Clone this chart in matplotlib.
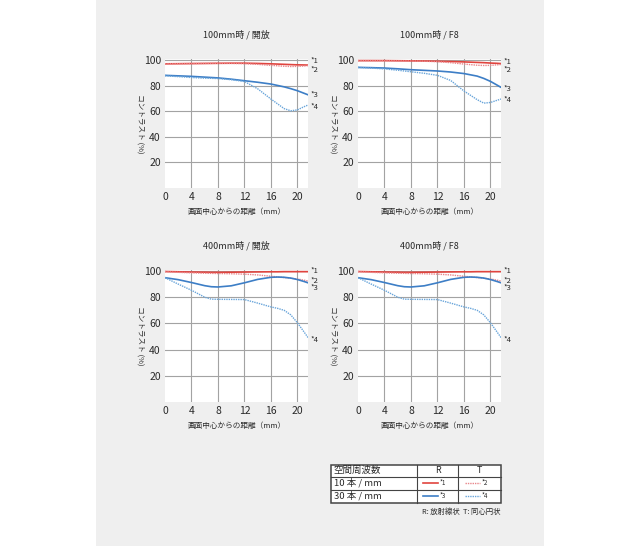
import matplotlib
matplotlib.use("Agg")
import matplotlib.pyplot as plt
import matplotlib.patches as mpatches

plt.rcParams["font.family"] = ["Noto Sans CJK JP", "DejaVu Sans"]

# ---- data (MTF, contrast %) ----
x_100 = [0, 2, 4, 6, 8, 10, 12, 14, 16, 18, 19, 20, 21, 21.6]
open100_r10 = [97, 97.1, 97.2, 97.3, 97.4, 97.5, 97.5, 97.3, 97.0, 96.6, 96.4, 96.2, 96.1, 96.0]
open100_t10 = [97, 97.1, 97.2, 97.3, 97.4, 97.3, 97.1, 96.6, 95.8, 95.1, 94.9, 95.0, 95.3, 95.6]
open100_r30 = [88, 87.6, 87.2, 86.6, 86.0, 85.0, 83.8, 82.6, 81.2, 79.0, 77.6, 76.0, 74.0, 72.8]
open100_t30 = [87.6, 87.0, 86.3, 85.8, 85.5, 84.6, 83.2, 77.5, 69.5, 62.0, 60.3, 61.0, 63.5, 64.8]

f8_100_r10 = [99.5, 99.5, 99.5, 99.4, 99.3, 99.2, 99.0, 98.8, 98.5, 98.1, 97.9, 97.6, 97.4, 97.2]
f8_100_t10 = [99.5, 99.5, 99.4, 99.3, 99.2, 99.0, 98.7, 97.9, 96.8, 95.9, 95.7, 95.8, 96.2, 96.5]
f8_100_r30 = [94.2, 94.0, 93.7, 93.1, 92.4, 91.9, 91.4, 90.6, 89.4, 87.4, 85.6, 83.3, 80.4, 78.6]
f8_100_t30 = [94.2, 93.7, 93.0, 92.0, 90.8, 89.6, 88.0, 84.0, 75.8, 69.0, 66.3, 66.8, 68.5, 69.5]

x_400 = [0, 2, 4, 6, 7, 8, 10, 12, 14, 16, 17, 18, 19, 20, 21, 21.6]
open400_r10 = [99.6, 99.4, 99.2, 99.1, 99.0, 99.0, 99.1, 99.2, 99.3, 99.4, 99.4, 99.5, 99.5, 99.5, 99.5, 99.5]
open400_t10 = [99.5, 99.0, 98.6, 98.3, 98.2, 98.1, 97.9, 97.6, 97.0, 96.0, 95.5, 95.0, 94.5, 93.9, 93.0, 92.3]
open400_r30 = [94.9, 93.4, 91.2, 88.8, 88.0, 87.8, 88.7, 91.0, 93.6, 95.2, 95.4, 95.2, 94.6, 93.5, 92.0, 91.0]
open400_t30 = [94.9, 90.0, 85.3, 80.0, 78.5, 78.4, 78.3, 78.2, 75.5, 72.6, 71.5, 70.0, 66.5, 60.5, 53.5, 49.2]

f8_400_r10 = open400_r10
f8_400_t10 = open400_t10
f8_400_r30 = open400_r30
f8_400_t30 = open400_t30

titles = ["100mm時 / 開放", "100mm時 / F8", "400mm時 / 開放", "400mm時 / F8"]
series_tags = ["*1", "*2", "*3", "*4"]
label_y_100open = [99, 92.4, 73, 63]
label_y_100f8 = [98.7, 92, 77.6, 68.5]
label_y_400 = [100, 92.4, 87.3, 47.7]

x_ticks = [0, 4, 8, 12, 16, 20]
y_ticks = [20, 40, 60, 80, 100]

RED = "#e0443e"
RED_L = "#e8868a"
BLUE = "#3d7ec6"
BLUE_L = "#69a5da"
GRID = "#a3a3a3"
TXT = "#2a2a2a"
styles = [
    dict(color=RED, lw=1.2, ls="-"),
    dict(color=RED_L, lw=1.0, ls=(0, (1, 0.7))),
    dict(color=BLUE, lw=1.2, ls="-"),
    dict(color=BLUE_L, lw=1.0, ls=(0, (1, 0.7))),
]

W, H = 640, 546
fig = plt.figure(figsize=(6.4, 5.46), dpi=100, facecolor="white")
# gray page backdrop, behind everything
fig.patches.append(mpatches.Rectangle((96 / W, 0), (544 - 96) / W, 1,
                                      transform=fig.transFigure,
                                      facecolor="#efefef", edgecolor="none",
                                      zorder=-5))


def px_axes(left, right, top, bottom):
    return fig.add_axes([left / W, 1 - bottom / H, (right - left) / W,
                         (bottom - top) / H])


panels = [
    (px_axes(165, 308, 58.7, 188), x_100,
     [open100_r10, open100_t10, open100_r30, open100_t30], label_y_100open),
    (px_axes(358, 501, 58.7, 188), x_100,
     [f8_100_r10, f8_100_t10, f8_100_r30, f8_100_t30], label_y_100f8),
    (px_axes(165, 308, 269.7, 402), x_400,
     [open400_r10, open400_t10, open400_r30, open400_t30], label_y_400),
    (px_axes(358, 501, 269.7, 402), x_400,
     [f8_400_r10, f8_400_t10, f8_400_r30, f8_400_t30], label_y_400),
]

for (ax, xs, curves, lab_y), title in zip(panels, titles):
    ax.set_facecolor("white")
    ax.set_xlim(0, 21.6)
    ax.set_ylim(0, 101)
    for s in ax.spines.values():
        s.set_visible(False)
    for xv in x_ticks[1:]:
        ax.axvline(xv, color=GRID, lw=0.8, zorder=1)
    for yv in y_ticks:
        ax.axhline(yv, color=GRID, lw=0.8, zorder=1)
    ax.set_xticks(x_ticks)
    ax.set_yticks(y_ticks)
    ax.tick_params(length=0, labelsize=7.5, colors=TXT, pad=3)
    for ys, st in zip(curves, styles):
        ax.plot(xs, ys, zorder=3, solid_capstyle="round", **st)
    for tag, yv in zip(series_tags, lab_y):
        ax.annotate(tag, xy=(1, yv), xycoords=("axes fraction", "data"),
                    xytext=(2, 0), textcoords="offset points",
                    fontsize=5.5, color=TXT, va="center", ha="left")
    ax.set_title(title, fontsize=6.5, color=TXT, pad=15)
    ax.set_xlabel("画面中心からの距離（mm）", fontsize=5.5, color=TXT, labelpad=4)
    ax.set_ylabel("コントラスト (%)", fontsize=5.5, color=TXT, rotation=270,
                  va="center")
    ax.yaxis.set_label_coords(-0.175, 0.5)

# ---- legend table ----
tab = px_axes(329, 503, 463, 505)
tab.set_xlim(329, 503)
tab.set_ylim(505, 463)
tab.axis("off")
x0, x1, xc1, xc2 = 331, 501, 417, 458
y0, y1, yr1, yr2 = 465, 503, 476.5, 489.5
tab.add_patch(mpatches.Rectangle((x0, y0), x1 - x0, y1 - y0, facecolor="white",
                                 edgecolor="#444444", lw=1.1))
for yv in (yr1, yr2):
    tab.plot([x0, x1], [yv, yv], color="#444444", lw=0.8)
for xv in (xc1, xc2):
    tab.plot([xv, xv], [y0, y1], color="#444444", lw=0.8)

row_labels = ["空間周波数", "10 本 / mm", "30 本 / mm"]
col_heads = ["R", "T"]
row_mid = [(y0 + yr1) / 2, (yr1 + yr2) / 2, (yr2 + y1) / 2]
for lab, ym in zip(row_labels, row_mid):
    tab.text(333.5, ym, lab, fontsize=6.8, color=TXT, va="center", ha="left")
for lab, xm in zip(col_heads, [(xc1 + xc2) / 2, (xc2 + x1) / 2]):
    tab.text(xm, row_mid[0], lab, fontsize=6.5, color=TXT, va="center",
             ha="center")
for i, st in enumerate(styles):
    ym = row_mid[1 + i // 2]
    xa = 423 if i % 2 == 0 else 465
    tab.plot([xa, xa + 15], [ym, ym], **st)
    tab.text(xa + 16.5, ym, series_tags[i], fontsize=4.5, color=TXT,
             va="center", ha="left")

fig.text(501 / W, 1 - 512 / H, "R: 放射線状  T: 同心円状", fontsize=5.3,
         color=TXT, ha="right", va="center")

fig.savefig("out.png", dpi=100, facecolor=fig.get_facecolor())
